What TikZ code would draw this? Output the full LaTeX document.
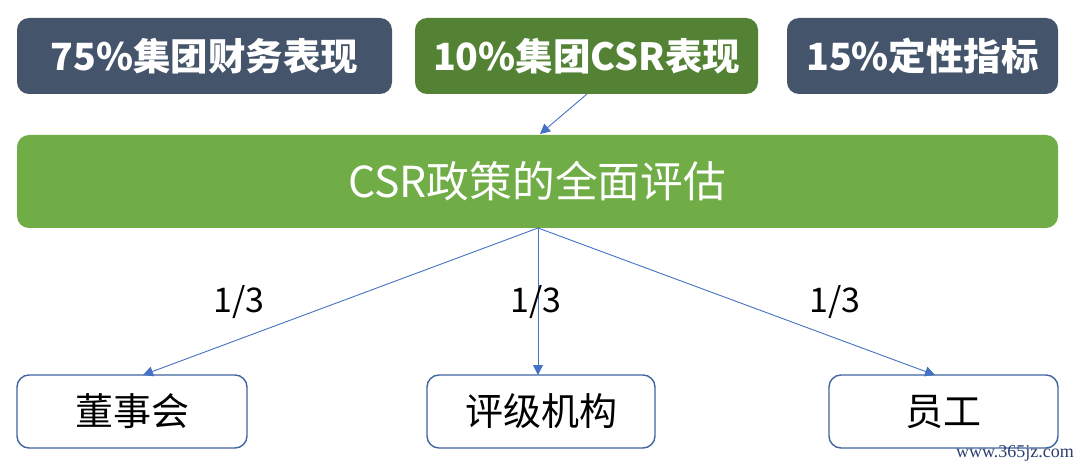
\documentclass[tikz,border=0pt]{standalone}
\usepackage{fontspec}
\setmainfont{Noto Sans CJK SC}
\newfontfamily\wmfont{Liberation Serif}
\usetikzlibrary{arrows.meta}
\definecolor{slate}{HTML}{44546A}
\definecolor{dgreen}{HTML}{548235}
\definecolor{lgreen}{HTML}{70AD47}
\definecolor{bblue}{HTML}{4472C4}
\definecolor{bborder}{HTML}{41659F}
\definecolor{wmblue}{HTML}{2E3F73}
\begin{document}
\begin{tikzpicture}[x=1pt,y=-1pt,
  toptext/.style={text=white, font=\fontsize{37.5}{42}\selectfont\bfseries},
  bottext/.style={font=\fontsize{38}{44}\selectfont},
  boxline/.style={draw=bborder, line width=1.4pt, rounded corners=12pt},
  conn/.style={draw=bblue, line width=0.9pt, -{Triangle[length=10pt,width=10pt]}},
  lbl/.style={font=\fontsize{34}{40}\selectfont}
]
\useasboundingbox[fill=white] (0,0) rectangle (1080,468);
% top boxes
\fill[slate, rounded corners=12pt] (17,18) rectangle (392,94);
\node[toptext] (t1) at (204.5,56) {75\%集团财务表现};
\fill[dgreen, rounded corners=12pt] (415,18) rectangle (758,94);
\node[toptext] (t2) at (586.5,56) {10\%集团CSR表现};
\fill[slate, rounded corners=12pt] (787,18) rectangle (1058,94);
\node[toptext] (t3) at (922.5,56) {15\%定性指标};
\coordinate (t2b) at (587,94);
% main bar
\fill[lgreen, rounded corners=12pt] (17,135) rectangle (1058,228);
\node[text=white, font=\fontsize{42.7}{48}\selectfont] (m) at (537,181) {CSR政策的全面评估};
\coordinate (mtop) at (540,134);
\coordinate (mbot) at (538,228);
% bottom boxes
\draw[boxline] (17,375) rectangle (247,448);
\node[bottext] (b1) at (132,411.5) {董事会};
\draw[boxline] (427,375) rectangle (655,448);
\node[bottext] (b2) at (541,411.5) {评级机构};
\draw[boxline] (829,375) rectangle (1058,448);
\node[bottext] (b3) at (943.5,411.5) {员工};
\coordinate (b1t) at (143,375);
\coordinate (b2t) at (538,375);
\coordinate (b3t) at (935,375);
% connectors
\draw[conn] (t2b) -- (mtop);
\draw[conn] (mbot) -- (b1t);
\draw[conn] (mbot) -- (b2t);
\draw[conn] (mbot) -- (b3t);
% labels
\node[lbl] (l1) at (239,302) {1/3};
\node[lbl] (l2) at (536,302) {1/3};
\node[lbl] (l3) at (835,302) {1/3};
% watermark
\node[text=wmblue, font=\wmfont\fontsize{18}{20}\selectfont] (wm) at (1015,453) {www.365jz.com};
\end{tikzpicture}
\end{document}
